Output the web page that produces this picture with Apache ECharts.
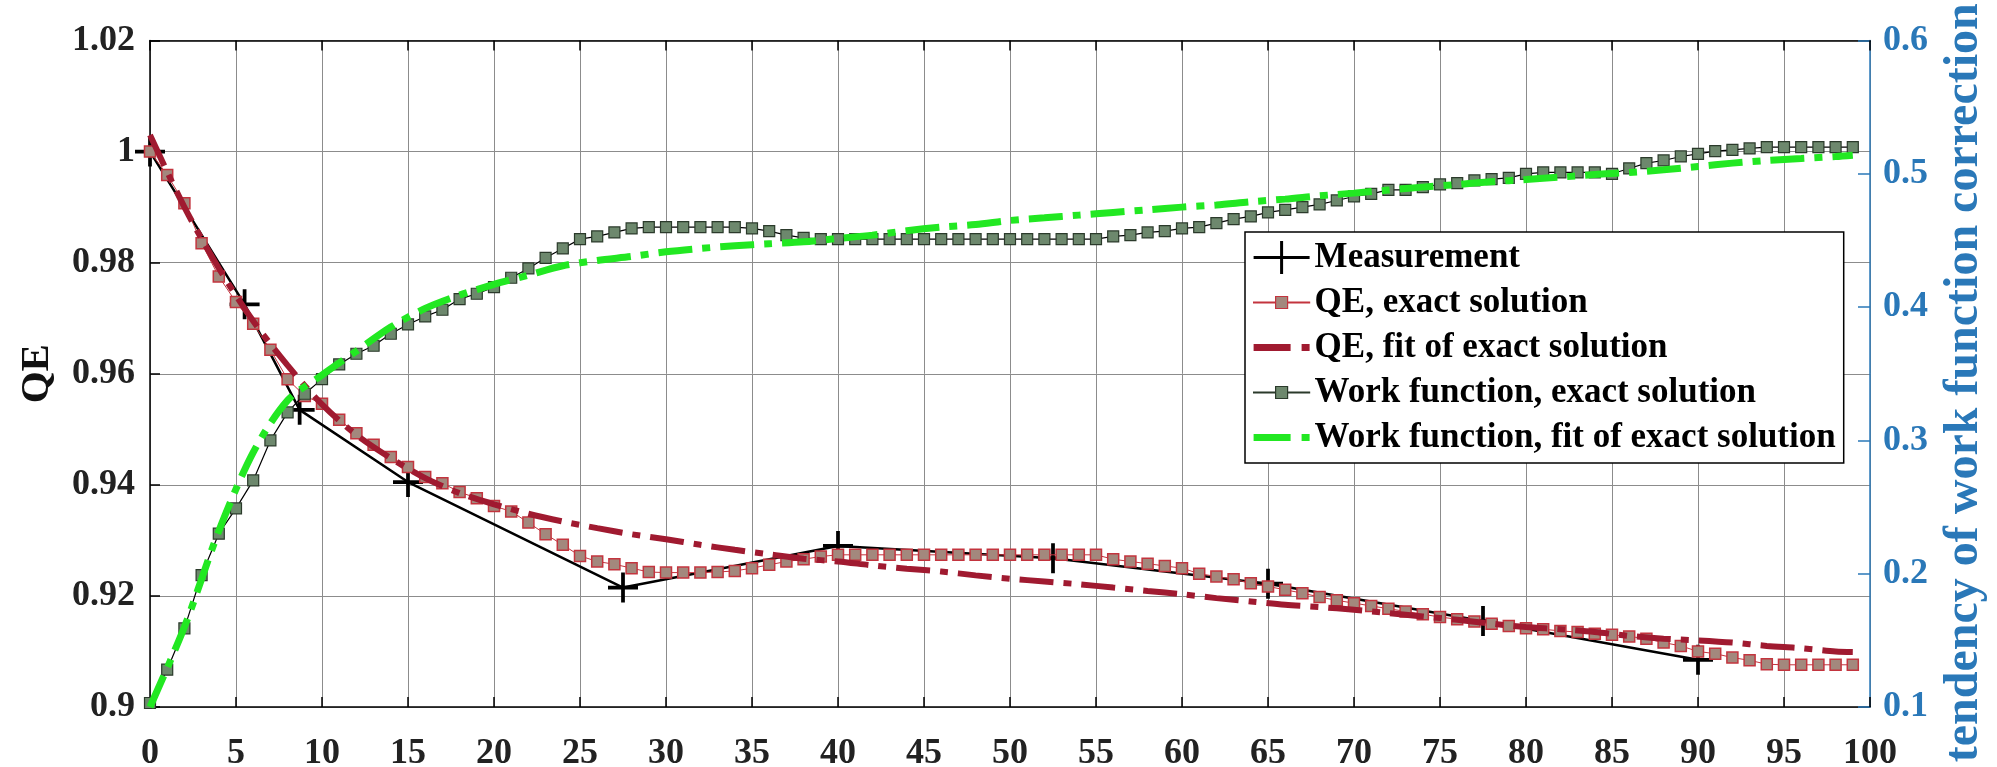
<!DOCTYPE html>
<html>
<head>
<meta charset="utf-8">
<script src="https://cdn.jsdelivr.net/npm/echarts@6/dist/echarts.min.js"></script>
<style>
html,body{margin:0;padding:0;background:#fff;}
#chart{width:1997px;height:767px;}
</style>
</head>
<body>
<div id="chart"></div>
<script>
// ---------- data ----------
const seriesNames = ['Measurement','QE, exact solution','QE, fit of exact solution','Work function, exact solution','Work function, fit of exact solution'];
const xTicks = [0,5,10,15,20,25,30,35,40,45,50,55,60,65,70,75,80,85,90,95,100];

const measX = [0, 5.5, 8.7, 15, 27.5, 40, 52.5, 65, 77.5, 90];
const measQE = [1.000, 0.9725, 0.9535, 0.9405, 0.9215, 0.9290, 0.9268, 0.9222, 0.9155, 0.9085];

const exactX = [0,1,2,3,4,5,6,7,8,9,10,11,12,13,14,15,16,17,18,19,20,21,22,23,24,25,26,27,28,29,30,31,32,33,34,35,36,37,38,39,40,41,42,43,44,45,46,47,48,49,50,51,52,53,54,55,56,57,58,59,60,61,62,63,64,65,66,67,68,69,70,71,72,73,74,75,76,77,78,79,80,81,82,83,84,85,86,87,88,89,90,91,92,93,94,95,96,97,98,99];
const qeExact = [1.000,0.9958,0.9907,0.9835,0.9775,0.9729,0.9690,0.9643,0.9590,0.9560,
  0.9546,0.9517,0.9493,0.9472,0.9450,0.9432,0.9414,0.9403,0.9387,0.9376,
  0.9362,0.9352,0.9332,0.9311,0.9292,0.9272,0.9262,0.9257,0.9250,0.9243,
  0.9242,0.9242,0.9242,0.9243,0.9245,0.9250,0.9256,0.9262,0.9266,0.9271,
  0.9274,0.9274,0.9274,0.9274,0.9274,0.9274,0.9274,0.9274,0.9274,0.9274,
  0.9274,0.9274,0.9274,0.9274,0.9274,0.9274,0.9266,0.9262,0.9258,0.9254,
  0.9250,0.9240,0.9235,0.9230,0.9223,0.9217,0.9211,0.9205,0.9198,0.9192,
  0.9187,0.9182,0.9177,0.9172,0.9167,0.9162,0.9158,0.9154,0.9150,0.9146,
  0.9142,0.9140,0.9137,0.9135,0.9132,0.9130,0.9127,0.9123,0.9116,0.9110,
  0.9100,0.9096,0.9089,0.9084,0.9077,0.9076,0.9076,0.9076,0.9076,0.9076];
const wfExact = [0.103,0.128,0.159,0.199,0.230,0.249,0.270,0.300,0.321,0.335,
  0.346,0.357,0.365,0.371,0.380,0.387,0.393,0.398,0.406,0.410,
  0.415,0.422,0.429,0.437,0.444,0.451,0.453,0.456,0.459,0.460,
  0.460,0.460,0.460,0.460,0.460,0.459,0.457,0.454,0.452,0.451,
  0.451,0.451,0.451,0.451,0.451,0.451,0.451,0.451,0.451,0.451,
  0.451,0.451,0.451,0.451,0.451,0.451,0.453,0.454,0.456,0.457,
  0.459,0.460,0.463,0.466,0.468,0.471,0.473,0.475,0.477,0.480,
  0.483,0.485,0.488,0.488,0.490,0.492,0.493,0.495,0.496,0.497,
  0.500,0.501,0.501,0.501,0.501,0.500,0.504,0.508,0.510,0.513,
  0.515,0.517,0.518,0.519,0.520,0.520,0.520,0.520,0.520,0.520];

const fitX = [0,2,4,6,8,10,12,14,16,18,20,22,24,26,28,30,32,34,36,38,40,42,44,46,48,50,52,54,56,58,60,62,64,66,68,70,72,74,76,78,80,82,84,86,88,90,92,94,96,98,99];
const qeFit = [1.003,0.990,0.979,0.9695,0.9615,0.9545,0.9490,0.9448,0.9412,0.9385,
  0.9365,0.9348,0.9334,0.9322,0.9311,0.9302,0.9292,0.9283,0.9275,0.9267,
  0.9262,0.9255,0.9249,0.9244,0.9237,0.9231,0.9226,0.9221,0.9215,0.9209,
  0.9203,0.9196,0.9190,0.9184,0.9180,0.9175,0.9169,0.9163,0.9157,0.9150,
  0.9144,0.9140,0.9135,0.9128,0.9123,0.9120,0.9116,0.9110,0.9106,0.9100,0.9099];
const wfFit = [0.100,0.160,0.232,0.291,0.330,0.349,0.367,0.385,0.399,0.409,
  0.417,0.424,0.431,0.435,0.438,0.4415,0.444,0.446,0.4475,0.449,
  0.4515,0.454,0.4573,0.460,0.462,0.465,0.467,0.469,0.471,0.473,
  0.475,0.4766,0.479,0.481,0.4835,0.4855,0.4878,0.490,0.492,0.494,
  0.4957,0.4975,0.4995,0.501,0.503,0.5055,0.508,0.510,0.5115,0.513,0.514];

// ---------- chart ----------
function pairs(xs, ys){ return xs.map((x,i)=>[x, ys[i]]); }
const FONT = "'Liberation Serif','Times New Roman',serif";
const BLUE = '#2a78b8';
const RED_MK = '#c3343e', RED_FILL = '#a3887d', RED_FIT = '#a01a30';
const GRN_MK = '#2b3a2b', GRN_FILL = '#6d886d', GRN_FIT = '#22e822';
const plusPath = 'path://M10.5,0h3v10.5h10.5v3h-10.5v10.5h-3v-10.5h-10.5v-3h10.5z';
// legend icons (56 px wide boxes)
const iconPlus  = 'path://M0,15h26.5v-15h3v15h26.5v3h-26.5v15h-3v-15h-26.5z';
const iconMark  = 'path://M0,5.5h22v1h-22z M22,0h12v12h-12z M34,5.5h22v1h-22z';
const iconDash  = 'path://M0,0h37v7h-37z M48,0h8v7h-8z';
const DASH = [34,10,8,10];

const chart = echarts.init(document.getElementById('chart'), null, {renderer:'canvas'});
chart.setOption({
  animation:false,
  backgroundColor:'#ffffff',
  grid:{left:150, right:127, top:40.5, bottom:60, containLabel:false, outerBoundsMode:'none'},
  legend:{
    orient:'vertical', left:1245, top:232,
    backgroundColor:'#ffffff', borderColor:'#000', borderWidth:1.5,
    padding:[8,8,8,8], itemGap:10, itemWidth:56, itemHeight:33,
    symbolKeepAspect:true,
    textStyle:{fontFamily:FONT, fontWeight:'bold', fontSize:35, color:'#000', lineHeight:35},
    data:[
      {name:seriesNames[0], icon:iconPlus, itemStyle:{color:'#000', borderWidth:0}},
      {name:seriesNames[1], icon:iconMark, itemStyle:{color:RED_FILL, borderColor:RED_MK, borderWidth:1.2}},
      {name:seriesNames[2], icon:iconDash, itemStyle:{color:RED_FIT, borderWidth:0}},
      {name:seriesNames[3], icon:iconMark, itemStyle:{color:GRN_FILL, borderColor:GRN_MK, borderWidth:1.2}},
      {name:seriesNames[4], icon:iconDash, itemStyle:{color:GRN_FIT, borderWidth:0}}
    ]
  },
  xAxis:[{
    type:'value', min:0, max:100, interval:5, position:'bottom',
    axisLine:{show:true, onZero:false, lineStyle:{color:'#000', width:1.5}},
    axisTick:{show:true, inside:true, length:10, lineStyle:{color:'#000', width:1.5}},
    axisLabel:{fontFamily:FONT, fontWeight:'bold', fontSize:36, color:'#222', margin:29},
    splitLine:{show:true, lineStyle:{color:'#8c8c8c', width:1}}
  },{
    type:'value', min:0, max:100, interval:5, position:'top',
    axisLine:{show:true, onZero:false, lineStyle:{color:'#000', width:1.5}},
    axisTick:{show:true, inside:true, length:10, lineStyle:{color:'#000', width:1.5}},
    axisLabel:{show:false}, splitLine:{show:false}
  }],
  yAxis:[{
    type:'value', min:0.9, max:1.02, interval:0.02, position:'left',
    name:'QE', nameLocation:'middle', nameGap:92, nameRotate:90,
    nameTextStyle:{fontFamily:FONT, fontWeight:'bold', fontSize:41, color:'#111'},
    axisLine:{show:true, onZero:false, lineStyle:{color:'#000', width:1.5}},
    axisTick:{show:true, inside:true, length:10, lineStyle:{color:'#000', width:1.5}},
    axisLabel:{fontFamily:FONT, fontWeight:'bold', fontSize:36, color:'#222', margin:15},
    splitLine:{show:true, lineStyle:{color:'#8c8c8c', width:1}}
  },{
    type:'value', min:0.1, max:0.6, interval:0.1, position:'right',
    name:'tendency of work function correction', nameLocation:'middle', nameGap:71, nameRotate:90,
    nameTextStyle:{fontFamily:FONT, fontWeight:'bold', fontSize:48, color:BLUE, padding:[0,18,0,0]},
    axisLine:{show:true, onZero:false, lineStyle:{color:BLUE, width:1.5}},
    axisTick:{show:true, inside:true, length:12, lineStyle:{color:BLUE, width:1.5}},
    axisLabel:{fontFamily:FONT, fontWeight:'bold', fontSize:36, color:BLUE, margin:13},
    splitLine:{show:false}
  }],
  series:[{
    name:seriesNames[0], type:'line', xAxisIndex:0, yAxisIndex:0,
    data:pairs(measX, measQE),
    symbol:plusPath, symbolSize:30,
    itemStyle:{color:'#000'},
    lineStyle:{color:'#000', width:2.5},
    z:2
  },{
    name:seriesNames[1], type:'line', xAxisIndex:0, yAxisIndex:0,
    data:pairs(exactX, qeExact),
    symbol:'rect', symbolSize:11,
    itemStyle:{color:RED_FILL, borderColor:RED_MK, borderWidth:1.5},
    lineStyle:{color:RED_MK, width:1},
    z:3
  },{
    name:seriesNames[2], type:'line', xAxisIndex:0, yAxisIndex:0,
    data:pairs(fitX, qeFit), smooth:0.3,
    symbol:'none', showSymbol:false,
    itemStyle:{color:RED_FIT},
    lineStyle:{color:RED_FIT, width:6, type:DASH},
    z:4
  },{
    name:seriesNames[3], type:'line', xAxisIndex:0, yAxisIndex:1,
    data:pairs(exactX, wfExact),
    symbol:'rect', symbolSize:11,
    itemStyle:{color:GRN_FILL, borderColor:GRN_MK, borderWidth:1.2},
    lineStyle:{color:'#000', width:1.2},
    z:5
  },{
    name:seriesNames[4], type:'line', xAxisIndex:0, yAxisIndex:1,
    data:pairs(fitX, wfFit), smooth:0.3,
    symbol:'none', showSymbol:false,
    itemStyle:{color:GRN_FIT},
    lineStyle:{color:GRN_FIT, width:7, type:DASH},
    z:6
  }]
});
</script>
</body>
</html>
